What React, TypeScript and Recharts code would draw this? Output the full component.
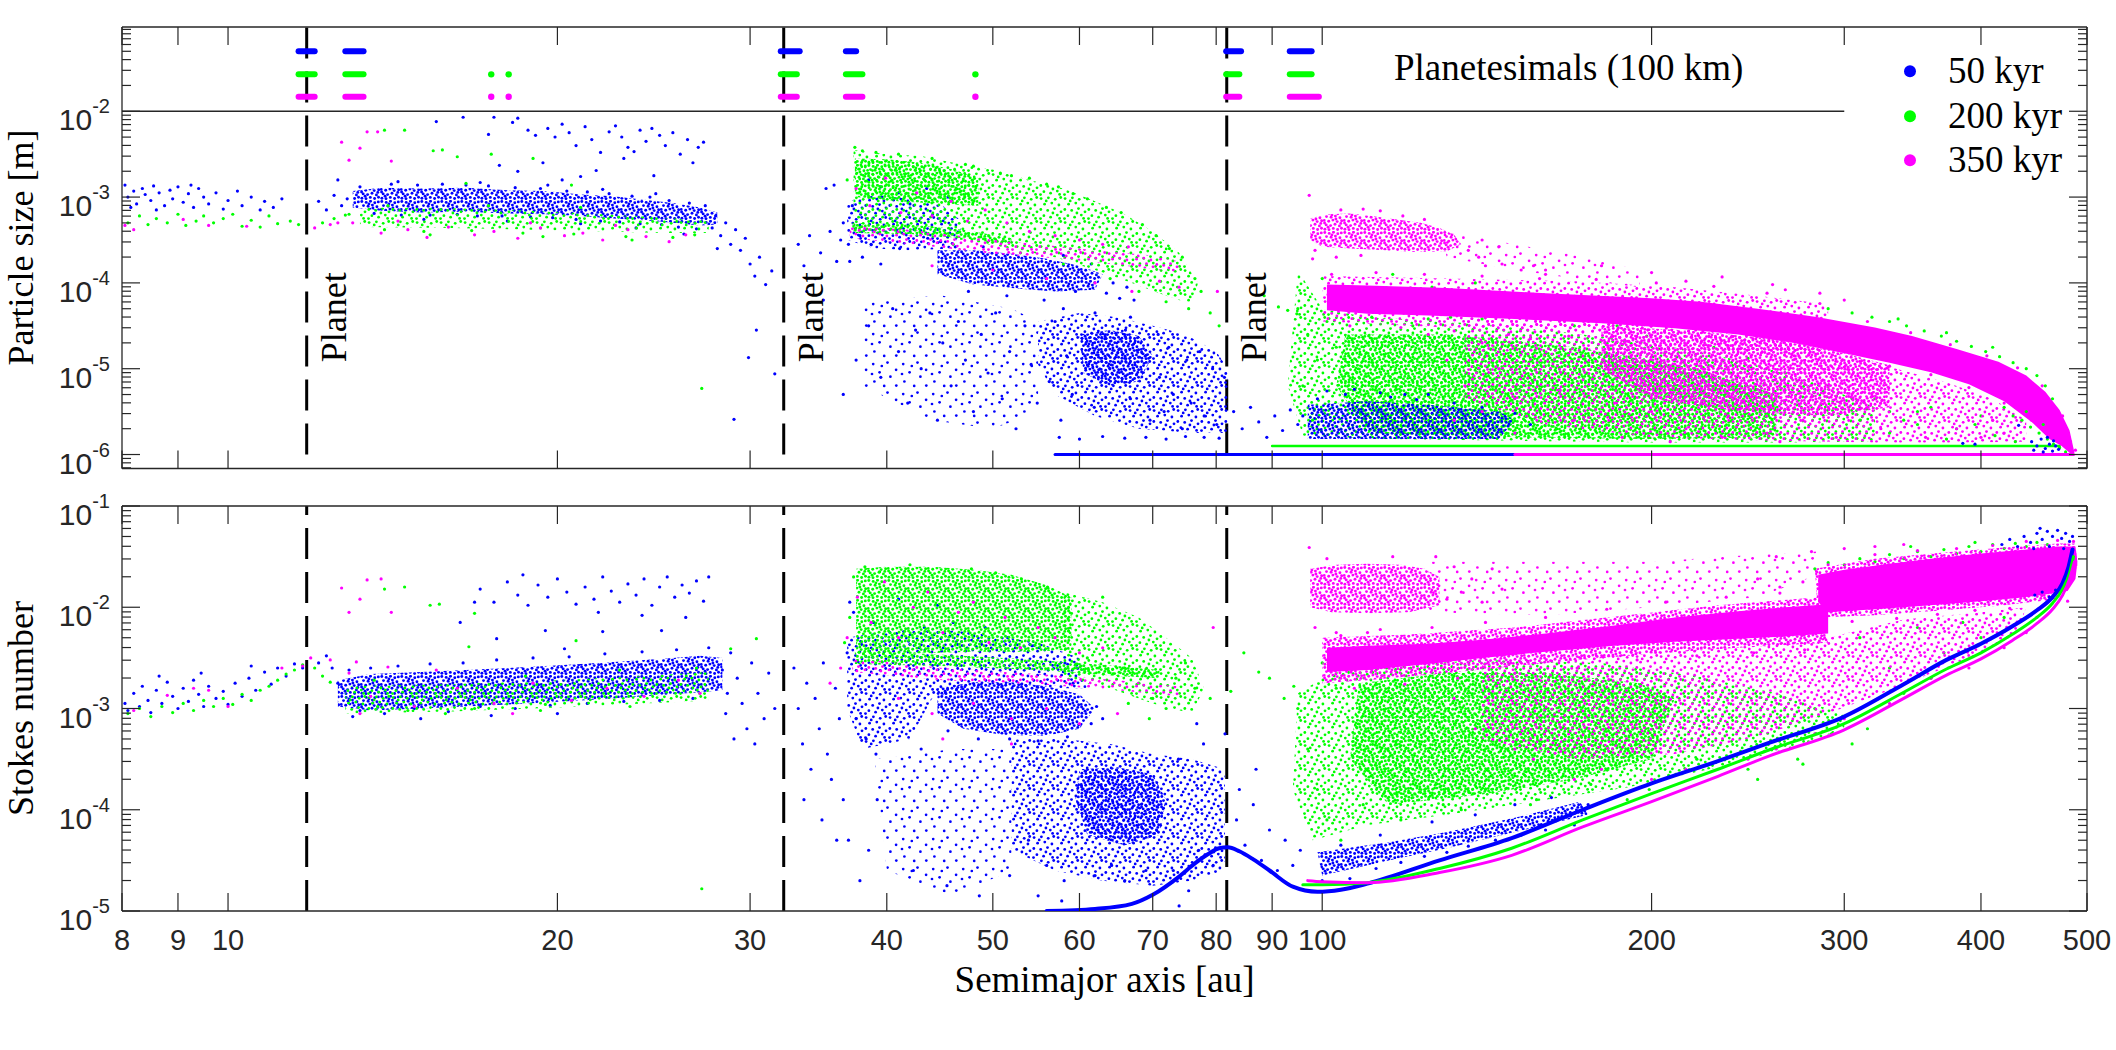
import React from 'react';
import { ScatterChart, Scatter, XAxis, YAxis, ReferenceLine } from 'recharts';

type Pt = [number, number]; // [semimajor axis au, log10(value)]

// ---------------- axes / ticks ----------------
const xTicks = [8, 9, 10, 20, 30, 40, 50, 60, 70, 80, 90, 100, 200, 300, 400, 500];
const xDomain = [8, 500];
const topYDomain = [6.871e-7, 0.09594];
const botYDomain = [1e-5, 1e-1];
const topYTicks = [7e-7, 8e-7, 9e-7, 1e-6, 2e-6, 3e-6, 4e-6, 5e-6, 6e-6, 7e-6, 8e-6, 9e-6, 1e-5, 2e-5, 3e-5, 4e-5, 5e-5, 6e-5, 7e-5, 8e-5, 9e-5, 1e-4, 2e-4, 3e-4, 4e-4, 5e-4, 6e-4, 7e-4, 8e-4, 9e-4, 1e-3, 2e-3, 3e-3, 4e-3, 5e-3, 6e-3, 7e-3, 8e-3, 9e-3, 1e-2, 2e-2, 3e-2, 4e-2, 5e-2, 6e-2, 7e-2, 8e-2, 9e-2];
const botYTicks = [1e-5, 2e-5, 3e-5, 4e-5, 5e-5, 6e-5, 7e-5, 8e-5, 9e-5, 1e-4, 2e-4, 3e-4, 4e-4, 5e-4, 6e-4, 7e-4, 8e-4, 9e-4, 1e-3, 2e-3, 3e-3, 4e-3, 5e-3, 6e-3, 7e-3, 8e-3, 9e-3, 1e-2, 2e-2, 3e-2, 4e-2, 5e-2, 6e-2, 7e-2, 8e-2, 9e-2, 1e-1];
const planets = [11.8, 32.2, 81.8];
const legendItems = ['50 kyr', '200 kyr', '350 kyr'];

// ---------------- planetesimals (100 km) ----------------
const pzRows = [-1.3, -1.57, -1.83];
const pzBlueDash = [[11.6, 12.0], [12.8, 13.3], [32.0, 33.3], [36.7, 37.5], [81.7, 84.3], [93.4, 97.8]];
const pzGreenDash = [[11.6, 12.0], [12.8, 13.3], [32.0, 33.1], [36.7, 38.0], [81.7, 84.0], [93.4, 97.8]];
const pzMagDash = [[11.6, 12.0], [12.8, 13.3], [32.0, 33.1], [36.7, 38.0], [81.7, 84.0], [93.4, 99.3]];
const pzGreenDots = [17.4, 18.05, 48.2];
const pzMagDots = [17.4, 18.05, 48.2];

// ======================= TOP: particle size =======================
const tBlueBandReg: Pt[] = [[13.0,-2.93],[13.8,-2.89],[15,-2.9],[16.5,-2.89],[18,-2.92],[19.5,-2.93],[21,-2.97],[22.5,-2.99],[24,-3.03],[25.5,-3.07],[27,-3.12],[28,-3.18],[28,-3.32],[27,-3.33],[25.5,-3.3],[24,-3.27],[22.5,-3.25],[21,-3.22],[19.5,-3.2],[18,-3.19],[16.5,-3.17],[15,-3.18],[13.8,-3.16],[13.0,-3.12]];
const tGreenBandReg: Pt[] = [[13.2,-3.12],[16,-3.13],[19,-3.16],[22,-3.2],[25,-3.24],[27.5,-3.28],[27.5,-3.42],[25,-3.42],[22,-3.4],[19,-3.38],[16,-3.36],[13.2,-3.35]];
const tGreenCloudReg: Pt[] = [[37.3,-2.45],[40,-2.5],[43,-2.52],[46,-2.6],[50,-2.68],[54,-2.8],[58,-2.9],[62,-3.05],[66,-3.2],[70,-3.4],[74,-3.65],[77,-4.0],[76,-4.25],[72,-4.15],[67,-4.0],[62,-3.85],[57,-3.7],[52,-3.6],[47,-3.5],[42,-3.45],[37.3,-3.4]];
const tGreenDenseReg: Pt[] = [[37.4,-2.55],[40,-2.56],[43,-2.6],[46,-2.68],[48.5,-2.78],[48.5,-3.1],[45,-3.08],[41,-3.05],[37.4,-3.0]];
const tGreenStreakReg: Pt[] = [[37.2,-3.3],[42,-3.32],[47,-3.38],[52,-3.48],[52,-3.56],[47,-3.48],[42,-3.43],[37.2,-3.42]];
const tBlueMidReg: Pt[] = [[36.8,-3.05],[39,-2.98],[42,-3.02],[45,-3.1],[47,-3.3],[46,-3.6],[42,-3.62],[39,-3.6],[36.8,-3.5]];
const tBlueBlobReg: Pt[] = [[44.5,-3.62],[48,-3.62],[52,-3.66],[56,-3.72],[60,-3.8],[63,-3.9],[62,-4.08],[57,-4.1],[52,-4.06],[48,-4.02],[44.5,-3.9]];
const tBlueLowReg: Pt[] = [[55,-4.45],[60,-4.35],[65,-4.4],[70,-4.5],[75,-4.6],[80,-4.8],[82,-5.0],[82,-5.75],[76,-5.75],[68,-5.7],[62,-5.55],[57,-5.3],[55,-4.95]];
const tBlueLowDenseReg: Pt[] = [[60,-4.6],[64,-4.55],[68,-4.62],[70,-4.85],[68,-5.15],[64,-5.2],[60.5,-5.05]];
const tBlueSparseReg: Pt[] = [[38,-4.2],[45,-4.15],[52,-4.3],[55,-4.45],[55,-5.5],[50,-5.7],[44,-5.6],[38,-5.2]];
const tMagStreakReg: Pt[] = [[37,-3.33],[42,-3.38],[48,-3.47],[55,-3.55],[62,-3.62],[70,-3.68],[74,-3.75],[74,-3.88],[66,-3.8],[58,-3.72],[50,-3.66],[43,-3.56],[37,-3.48]];
const tGreenBroadReg: Pt[] = [[95,-3.85],[100,-4.3],[110,-4.4],[130,-4.45],[160,-4.55],[200,-4.7],[240,-4.9],[280,-5.15],[320,-5.45],[320,-5.85],[260,-5.86],[200,-5.86],[150,-5.84],[115,-5.82],[96,-5.78],[93,-5.2]];
const tGreenBroadDenseReg: Pt[] = [[105,-4.6],[130,-4.6],[170,-4.75],[220,-5.0],[260,-5.3],[260,-5.8],[200,-5.82],[150,-5.8],[110,-5.75],[103,-5.2]];
const tBlueStreakReg: Pt[] = [[97,-5.42],[110,-5.38],[125,-5.42],[145,-5.5],[150,-5.6],[145,-5.82],[125,-5.82],[110,-5.82],[97,-5.82]];
const tMagUpperReg: Pt[] = [[97.5,-3.25],[101,-3.2],[106,-3.19],[111,-3.22],[117,-3.26],[123,-3.3],[128,-3.36],[132,-3.44],[134,-3.55],[130,-3.63],[122,-3.64],[114,-3.62],[106,-3.6],[100,-3.58],[97.5,-3.5]];
const tMagUpperSparseReg: Pt[] = [[128,-3.4],[150,-3.55],[175,-3.7],[195,-3.85],[195,-4.05],[170,-3.95],[150,-3.85],[130,-3.7]];
const tMagHaloReg: Pt[] = [[100,-3.92],[130,-3.95],[170,-3.98],[210,-4.05],[250,-4.15],[290,-4.25],[290,-4.95],[250,-4.82],[210,-4.7],[170,-4.6],[130,-4.52],[100,-4.45]];
const tMagCloudReg: Pt[] = [[135,-4.4],[170,-4.45],[210,-4.52],[250,-4.62],[290,-4.8],[330,-4.98],[370,-5.15],[410,-5.35],[440,-5.6],[440,-5.85],[380,-5.86],[320,-5.86],[260,-5.84],[200,-5.8],[160,-5.65],[135,-5.35]];
const tMagCloudDenseReg: Pt[] = [[180,-4.5],[220,-4.56],[260,-4.66],[300,-4.82],[330,-4.96],[330,-5.45],[290,-5.55],[240,-5.5],[200,-5.35],[180,-5.0]];
const tMagBandReg: Pt[] = [[101,-4.02],[110,-4.03],[130,-4.06],[160,-4.12],[200,-4.18],[222,-4.22],[250,-4.3],[284,-4.4],[320,-4.52],[346,-4.62],[380,-4.77],[415,-4.92],[440,-5.08],[458,-5.27],[472,-5.48],[482,-5.72],[487,-5.98],[484,-6.0],[474,-5.9],[462,-5.82],[445,-5.62],[420,-5.38],[390,-5.18],[360,-5.04],[330,-4.93],[300,-4.82],[270,-4.7],[240,-4.6],[210,-4.53],[180,-4.47],[150,-4.42],[125,-4.38],[110,-4.36],[101,-4.32]];

const tBlueLeft: Pt[] = [[8.05,-2.86],[8.1,-3.0],[8.2,-2.93],[8.25,-3.08],[8.35,-2.9],[8.4,-2.97],[8.5,-3.04],[8.55,-2.87],[8.65,-2.95],[8.75,-3.1],[8.85,-2.92],[8.9,-3.02],[9.0,-2.88],[9.1,-3.06],[9.2,-2.96],[9.3,-3.12],[9.4,-2.9],[9.5,-3.0],[9.6,-3.08],[9.75,-2.95],[9.9,-3.14],[10.0,-3.04],[10.2,-2.93],[10.3,-3.1],[10.5,-3.0],[10.7,-3.15],[10.8,-3.05],[11.0,-3.12],[11.2,-3.02],[8.15,-3.12],[8.6,-3.15],[9.25,-2.86],[12.1,-3.05],[12.3,-3.15],[12.5,-2.98],[12.6,-2.8],[12.7,-3.1],[12.85,-3.02]];
const tBlueBand: Pt[] = [[13.2,-2.88],[13.6,-3.19],[14.1,-2.85],[14.4,-3.21],[14.9,-2.86],[15.3,-3.21],[15.7,-2.85],[16.2,-3.2],[16.5,-2.86],[16.9,-3.22],[17.3,-2.87],[17.8,-3.22],[18.3,-2.89],[18.9,-3.23],[19.3,-2.9],[19.8,-3.24],[20.4,-2.93],[20.8,-3.26],[21.3,-2.94],[21.9,-3.28],[22.3,-2.96],[22.8,-3.29],[23.4,-2.99],[23.8,-3.31],[24.3,-3.0],[24.9,-3.32],[25.3,-3.04],[25.8,-3.35],[26.4,-3.07],[26.8,-3.37],[27.3,-3.1],[27.7,-3.36],[14.3,-2.82],[17.0,-2.83],[19.6,-2.86],[22.0,-2.91],[24.6,-2.96],[15.1,-3.26],[18.0,-3.28],[21.0,-3.31],[23.6,-3.36],[26.1,-3.43]];
const tBlueTail: Pt[] = [[27.9,-3.22],[28.2,-3.45],[28.5,-3.3],[28.8,-3.55],[29.1,-3.38],[29.4,-3.62],[29.7,-3.48],[30.0,-3.78],[30.3,-3.92],[30.6,-3.7],[31.0,-4.02],[31.4,-3.86],[29.9,-4.87],[31.6,-5.06],[30.4,-4.55],[29.0,-5.59],[28.0,-3.6]];
const tBlueUpper: Pt[] = [[15.5,-2.12],[16.4,-2.07],[17.3,-2.27],[17.5,-2.07],[17.7,-2.63],[18.2,-2.13],[18.4,-2.08],[18.4,-2.7],[18.8,-2.22],[19.1,-2.28],[19.4,-2.6],[19.6,-2.2],[19.9,-2.3],[20.2,-2.15],[20.2,-2.8],[20.5,-2.25],[20.8,-2.4],[21.0,-2.76],[21.2,-2.18],[21.5,-2.33],[21.7,-2.69],[21.9,-2.48],[22.3,-2.24],[22.6,-2.17],[22.9,-2.3],[23.2,-2.42],[23.5,-2.47],[23.8,-2.22],[24.1,-2.35],[24.5,-2.75],[24.8,-2.28],[25.1,-2.4],[25.5,-2.25],[25.9,-2.5],[26.3,-2.33],[26.6,-2.6],[26.9,-2.42],[27.2,-2.36],[23.0,-2.55],[24.4,-2.2]];
const tBlueMid: Pt[] = [[37.2,-3.1],[37.8,-3.45],[38.7,-3.55],[39.6,-3.0],[40.8,-3.38],[41.1,-3.6],[42.0,-3.08],[43.6,-3.48],[44.8,-3.52],[36.5,-3.3],[36.9,-3.55],[37.0,-3.75],[38.0,-3.7],[39.5,-3.78],[39.5,-2.88],[41.0,-2.95],[43.5,-2.9],[38.5,-2.8],[45.5,-3.0],[33.2,-3.55],[33.6,-3.8],[34.0,-3.45],[34.4,-3.95],[34.8,-3.65],[35.2,-2.9],[35.5,-3.4],[35.8,-2.86],[36.0,-3.75],[36.3,-3.5],[33.8,-4.1],[35.0,-4.2],[47.5,-4.1],[51.5,-4.15],[55.7,-4.2],[59.5,-4.1],[63.5,-4.12],[64.4,-4.0],[65.3,-4.18],[66.3,-4.05],[67.3,-4.2],[46.2,-3.58],[49.0,-3.58],[58.0,-3.68],[61.5,-3.78]];
const tBlueLow: Pt[] = [[38.5,-4.5],[39.5,-5.1],[40.5,-4.3],[41.0,-4.8],[41.8,-5.4],[42.5,-4.55],[43.0,-5.0],[43.8,-4.35],[44.5,-5.6],[45.0,-4.7],[45.8,-5.2],[46.5,-4.45],[47.2,-4.9],[48.0,-5.5],[48.8,-4.6],[49.5,-5.05],[50.3,-4.35],[51.0,-5.35],[51.8,-4.8],[52.5,-5.7],[37.5,-4.9],[36.5,-5.3],[53.5,-4.5],[54.2,-4.95],[54.9,-5.4],[56.3,-5.15],[57.0,-4.45],[57.7,-5.6],[58.4,-4.85],[59.1,-5.3],[61.9,-5.45],[63.3,-4.65],[66.1,-4.55],[66.8,-5.35],[69.6,-5.6],[71.0,-5.1],[71.7,-5.5],[72.4,-4.75],[73.1,-5.3],[74.5,-5.7],[75.2,-4.9],[75.9,-5.4],[77.3,-4.8],[78.0,-5.55],[79.4,-5.0],[80.1,-5.65],[81.4,-5.1],[70.8,-4.6],[58.0,-4.3],[62.0,-4.35],[66.8,-4.4],[57.5,-5.8],[60.0,-5.82],[63.0,-5.79],[66.0,-5.81],[69.0,-5.8],[72.0,-5.82],[75.0,-5.79],[78.0,-5.8],[80.5,-5.81]];
const tBlueRight: Pt[] = [[83,-5.5],[84.5,-5.7],[86,-5.45],[87.5,-5.62],[89,-5.8],[90.5,-5.55],[92,-5.72],[93.5,-5.48],[95,-5.65],[96,-5.55],[99,-5.35],[105,-5.3],[115.5,-5.33],[122,-5.36],[101,-5.26],[107,-5.24],[113,-5.28],[119,-5.3],[125,-5.3],[132,-5.4],[140,-5.45],[150,-5.52],[155,-5.65]];
const tBlueLate: Pt[] = [[445,-5.85],[450,-5.9],[454,-5.82],[458,-5.93],[462,-5.88],[465,-5.96],[468,-5.9],[471,-5.94],[447,-5.95],[456,-5.97],[460,-5.8],[466,-5.84],[385,-5.87],[395,-5.88],[433,-5.66]];
const tBlueFloor: Pt[] = [[57,-6.0],[155,-6.0]];
const tGreenFloor: Pt[] = [[90,-5.9],[472,-5.9]];
const tMagFloor: Pt[] = [[150,-6.0],[486,-6.0]];

const tGreenLeft: Pt[] = [[8.1,-3.3],[8.3,-3.22],[8.45,-3.32],[8.6,-3.25],[8.8,-3.3],[9.0,-3.2],[9.15,-3.33],[9.35,-3.28],[9.5,-3.22],[9.7,-3.3],[9.9,-3.25],[10.1,-3.2],[10.3,-3.34],[10.5,-3.27],[10.7,-3.35],[10.9,-3.22],[11.1,-3.31],[11.4,-3.28],[11.6,-3.32],[12.2,-3.3],[12.5,-3.25],[12.8,-3.21]];
const tGreenBand: Pt[] = [[12.9,-3.2],[13.9,-3.38],[15.1,-3.4],[16.7,-3.39],[18.6,-3.42],[20.7,-3.43],[23.1,-3.46],[25.5,-3.47],[26.7,-3.44],[15.3,-3.44],[19.4,-3.46],[23.4,-3.5],[17.3,-3.1],[21.0,-3.12],[14.0,-3.1]];
const tGreenUpper: Pt[] = [[13.9,-2.22],[14.5,-2.22],[15.4,-2.46],[15.7,-2.45],[16.2,-2.53],[17.4,-2.5],[19.0,-2.55],[16.5,-2.84],[20.6,-2.86],[27.1,-5.23]];
const tGreenMid: Pt[] = [[37.4,-2.42],[38.0,-2.46],[36.8,-2.8],[39.1,-2.48],[41.0,-2.5],[44.0,-2.55],[47.2,-2.62],[48.0,-2.64],[50.8,-2.72],[52.0,-2.75],[54.0,-2.78],[56.0,-2.85],[57.4,-2.88],[59.2,-2.96],[61.0,-3.02],[63.5,-3.12],[65.5,-3.18],[68.5,-3.32],[70.5,-3.45],[72.5,-3.6],[74.5,-3.7],[76.5,-3.95],[77.5,-4.1],[75.5,-4.3],[72.0,-4.22],[68.0,-4.1],[64.0,-3.95],[79,-4.35],[80.5,-4.5],[88.5,-4.15],[91.2,-4.28],[93,-4.32],[94.8,-4.36],[53.0,-3.65],[58.0,-3.78],[46.0,-3.55]];
const tGreenRight: Pt[] = [[95,-4.3],[97,-4.6],[99,-4.9],[101,-4.45],[103,-4.75],[111,-4.4],[117,-4.3],[121,-4.5],[125,-4.42],[131,-4.4],[134,-4.35],[140,-4.42],[143,-4.25],[150,-4.4],[162,-4.38],[170,-4.5],[186,-4.5],[198,-4.62],[228,-4.75],[245,-4.88],[265,-5.05],[290,-5.2],[305,-5.35],[320,-5.35],[340,-5.6],[360,-5.45],[380,-5.7],[400,-5.55],[100,-3.95],[108,-4.1],[116,-3.9],[126,-4.05],[138,-4.0],[96,-5.2],[98,-5.6],[330,-5.5],[350,-5.65]];
const tGreenEdge: Pt[] = [[290,-4.3],[305,-4.35],[318,-4.4],[330,-4.45],[342,-4.5],[355,-4.56],[368,-4.62],[380,-4.68],[392,-4.74],[404,-4.8],[416,-4.86],[428,-4.93],[440,-5.0],[450,-5.08],[458,-5.2],[465,-5.35],[336,-4.42],[372,-4.58],[410,-4.75],[420,-5.45],[428,-5.55],[436,-5.6],[444,-5.68],[452,-5.75],[460,-5.82],[466,-5.88],[472,-5.92],[478,-5.97],[440,-5.5],[456,-5.65],[310,-5.6],[330,-5.75],[350,-5.5],[372,-5.82],[395,-5.65],[412,-5.78],[430,-5.85]];

const tMagLeft: Pt[] = [[8.05,-3.33],[8.2,-3.38],[9.1,-3.26],[9.6,-3.33],[10.4,-3.34],[12.0,-3.36],[12.6,-3.3]];
const tMagBand: Pt[] = [[13.0,-3.3],[13.8,-3.42],[14.6,-3.38],[15.2,-3.47],[15.9,-3.35],[16.8,-3.44],[17.5,-3.4],[18.4,-3.48],[19.3,-3.36],[20.3,-3.45],[21.1,-3.42],[22.0,-3.5],[23.2,-3.38],[24.1,-3.46],[25.3,-3.52],[26.2,-3.44],[14.3,-3.28],[18.9,-3.3],[22.6,-3.33],[12.4,-3.32],[13.4,-2.24],[13.7,-2.24],[12.7,-2.36],[13.2,-2.43],[12.9,-2.57],[14.1,-2.58]];
const tMagMid: Pt[] = [[37.5,-2.9],[38.6,-3.1],[39.9,-2.78],[41.2,-3.18],[42.6,-2.95],[44.0,-3.22],[45.8,-3.05],[47.4,-3.28],[49.2,-3.15],[51.5,-3.3],[54.0,-3.4],[57.0,-3.45],[60.0,-3.5],[63.0,-3.55],[66.5,-3.58],[50.0,-3.85],[56.0,-3.95],[62.0,-4.0],[67.0,-4.1],[71.0,-3.98],[74.0,-4.05],[44.0,-3.8],[80.2,-4.1],[97.3,-2.98]];
const tMagUpper: Pt[] = [[98.5,-3.62],[103,-3.7],[108.5,-3.68],[113,-3.16],[104,-3.15],[109,-3.14],[118.5,-3.22],[124,-3.26],[136,-3.62],[139,-3.7],[141,-3.8],[146,-3.78],[152,-3.85],[156,-3.8],[160,-3.9],[98,-3.72],[140,-3.5],[145,-3.58]];
const tMagEdge: Pt[] = [[102,-3.9],[106,-4.5],[112,-3.88],[118,-4.52],[124,-3.9],[132,-4.56],[140,-3.92],[148,-4.6],[158,-3.95],[168,-4.62],[178,-3.96],[190,-4.68],[202,-4.0],[215,-4.72],[228,-4.04],[240,-4.77],[255,-4.12],[270,-4.85],[285,-4.24],[300,-4.98],[315,-4.45],[330,-4.97],[345,-4.58],[360,-5.07],[375,-4.72],[390,-5.22],[405,-4.85],[420,-5.4],[432,-4.99],[445,-5.6],[455,-5.2],[465,-5.77],[475,-5.55],[483,-5.85],[488,-5.95],[160,-3.85],[180,-3.8],[200,-3.88],[232,-3.93],[258,-4.02],[285,-4.12],[300,-4.2],[265,-4.08],[215,-3.98]];
const tMagBelow: Pt[] = [[125,-4.6],[130,-4.9],[135,-5.2],[140,-4.7],[145,-5.0],[150,-5.35],[155,-4.65],[165,-5.25],[170,-5.6],[185,-5.4],[200,-5.5],[215,-5.7],[235,-5.55],[255,-5.75],[275,-5.6],[295,-5.8],[324,-5.7],[356,-5.8],[380,-5.7],[400,-5.8],[420,-5.75],[410,-5.6],[430,-5.45],[440,-5.4],[188,-5.8],[208,-5.85],[232,-5.8],[262,-5.85],[140,-5.5],[150,-5.75],[132,-5.6]];

// ======================= BOTTOM: Stokes number =======================
const bBlueBandReg: Pt[] = [[12.6,-2.72],[13.5,-2.66],[15,-2.64],[16.5,-2.62],[18,-2.6],[19.5,-2.58],[21,-2.56],[22.5,-2.54],[24,-2.52],[25.5,-2.5],[27,-2.48],[28.3,-2.5],[28.3,-2.82],[27,-2.84],[25.5,-2.86],[24,-2.88],[22.5,-2.9],[21,-2.92],[19.5,-2.94],[18,-2.96],[16.5,-2.98],[15,-3.0],[13.5,-3.02],[12.6,-2.98]];
const bGreenBandReg: Pt[] = [[12.8,-2.78],[16,-2.76],[20,-2.72],[24,-2.68],[27.5,-2.64],[27.5,-2.92],[24,-2.95],[20,-2.99],[16,-3.03],[12.8,-3.05]];
const bGreenCloudReg: Pt[] = [[37.5,-1.62],[40,-1.6],[44,-1.6],[48,-1.63],[52,-1.68],[56,-1.78],[59,-1.9],[59,-2.42],[54,-2.44],[48,-2.44],[42,-2.46],[37.5,-2.48]];
const bGreenCloudMedReg: Pt[] = [[58,-1.85],[63,-1.95],[68,-2.1],[72,-2.3],[76,-2.5],[78,-2.8],[76,-3.05],[70,-2.95],[64,-2.8],[58,-2.7]];
const bGreenStreakReg: Pt[] = [[37.4,-2.44],[45,-2.47],[55,-2.52],[65,-2.58],[71,-2.62],[71,-2.7],[65,-2.68],[55,-2.62],[45,-2.58],[37.4,-2.56]];
const bMagStreakReg: Pt[] = [[37.2,-2.5],[45,-2.6],[55,-2.66],[65,-2.72],[74,-2.78],[74,-2.88],[65,-2.82],[55,-2.76],[45,-2.72],[37.2,-2.64]];
const bBlueMidReg: Pt[] = [[36.8,-2.3],[42,-2.2],[48,-2.25],[55,-2.35],[60,-2.5],[61,-2.8],[55,-2.8],[48,-2.78],[44,-2.9],[42,-3.3],[38,-3.4],[36.8,-3.0]];
const bBlueBlobReg: Pt[] = [[44.5,-2.8],[48,-2.74],[52,-2.74],[56,-2.78],[60,-2.86],[62,-3.0],[60,-3.2],[56,-3.27],[51,-3.26],[47,-3.2],[44.5,-3.05]];
const bBlueLowReg: Pt[] = [[52,-3.3],[58,-3.3],[64,-3.35],[70,-3.45],[76,-3.5],[81.5,-3.6],[81.5,-4.6],[76,-4.7],[70,-4.75],[63,-4.7],[57,-4.6],[52,-4.4]];
const bBlueLowDenseReg: Pt[] = [[60,-3.6],[65,-3.58],[70,-3.65],[72,-3.9],[71,-4.25],[66,-4.35],[61,-4.25],[59.5,-3.9]];
const bBlueSparseReg: Pt[] = [[39,-3.5],[46,-3.4],[52,-3.4],[52,-4.6],[46,-4.85],[40,-4.6]];
const bMagUpperReg: Pt[] = [[97.5,-1.62],[103,-1.58],[110,-1.57],[118,-1.58],[124,-1.62],[128,-1.7],[128,-1.98],[120,-2.05],[110,-2.06],[102,-2.05],[97.5,-2.0]];
const bMagUpperSparseReg: Pt[] = [[125,-1.55],[160,-1.55],[200,-1.55],[250,-1.48],[284,-1.45],[284,-1.68],[250,-1.9],[200,-2.0],[160,-2.08],[125,-2.05]];
const bMagBand1Reg: Pt[] = [[101,-2.4],[110,-2.38],[125,-2.36],[140,-2.32],[160,-2.26],[185,-2.18],[210,-2.1],[240,-2.04],[265,-2.0],[290,-1.97],[290,-2.26],[265,-2.29],[240,-2.31],[210,-2.34],[185,-2.38],[160,-2.44],[140,-2.5],[125,-2.56],[110,-2.62],[101,-2.64]];
const bMagBand1HaloReg: Pt[] = [[100,-2.3],[120,-2.27],[150,-2.2],[190,-2.08],[230,-1.98],[284,-1.9],[290,-2.35],[240,-2.4],[200,-2.46],[160,-2.55],[130,-2.65],[110,-2.72],[100,-2.75]];
const bMagBand2Reg: Pt[] = [[284,-1.68],[300,-1.63],[330,-1.57],[360,-1.52],[400,-1.47],[440,-1.43],[470,-1.4],[488,-1.4],[490,-1.55],[488,-1.72],[480,-1.84],[455,-1.88],[430,-1.91],[400,-1.94],[370,-1.97],[340,-2.0],[310,-2.03],[290,-2.05],[284,-1.95]];
const bMagBand2HaloReg: Pt[] = [[282,-1.62],[320,-1.52],[370,-1.46],[420,-1.41],[470,-1.37],[488,-1.37],[490,-1.6],[470,-1.92],[420,-1.98],[370,-2.03],[320,-2.08],[284,-2.1]];
const bMagCloudReg: Pt[] = [[140,-2.55],[190,-2.45],[240,-2.4],[290,-2.3],[340,-2.12],[400,-2.05],[440,-2.0],[430,-2.3],[380,-2.55],[330,-2.82],[290,-3.05],[250,-3.28],[210,-3.45],[170,-3.5],[140,-3.3]];
const bGreenBroadReg: Pt[] = [[95,-2.85],[102,-2.65],[115,-2.58],[140,-2.52],[180,-2.55],[220,-2.68],[260,-2.85],[300,-3.05],[300,-3.2],[270,-3.38],[230,-3.58],[190,-3.78],[160,-3.9],[130,-4.05],[110,-4.15],[98,-4.3],[94,-3.8]];
const bGreenBroadDenseReg: Pt[] = [[108,-2.75],[130,-2.65],[160,-2.65],[195,-2.75],[210,-2.9],[200,-3.5],[170,-3.7],[140,-3.85],[115,-3.95],[106,-3.5]];
const bBlueStreakReg: Pt[] = [[99,-4.42],[115,-4.32],[130,-4.22],[150,-4.08],[172,-3.92],[175,-4.05],[150,-4.22],[130,-4.38],[115,-4.5],[100,-4.65]];

const bBlueLeft: Pt[] = [[8.05,-2.95],[8.1,-3.02],[8.2,-2.85],[8.3,-2.98],[8.35,-2.78],[8.45,-2.92],[8.5,-3.04],[8.6,-2.82],[8.7,-2.95],[8.8,-2.74],[8.9,-2.88],[9.0,-3.0],[9.1,-2.8],[9.2,-2.93],[9.3,-2.72],[9.4,-2.86],[9.5,-2.98],[9.6,-2.78],[9.75,-2.9],[9.9,-2.83],[10.0,-2.96],[10.15,-2.75],[10.3,-2.88],[10.45,-2.7],[10.6,-2.82],[10.8,-2.64],[10.95,-2.76],[11.1,-2.6],[11.3,-2.68],[11.5,-2.56],[11.7,-2.6],[12.1,-2.55],[12.3,-2.48],[12.45,-2.6],[8.65,-2.68],[9.45,-2.65],[10.5,-2.58]];
const bBlueBand: Pt[] = [[12.6,-2.75],[12.9,-2.62],[13.2,-3.02],[13.5,-2.6],[13.9,-3.05],[14.3,-2.58],[14.8,-3.0],[15.3,-2.56],[15.9,-3.03],[16.4,-2.55],[17.0,-2.98],[17.6,-2.52],[18.3,-3.0],[19.0,-2.5],[19.7,-2.97],[20.5,-2.49],[21.3,-2.95],[22.1,-2.46],[23.0,-2.93],[23.9,-2.44],[24.8,-2.92],[25.7,-2.42],[26.6,-2.9],[27.5,-2.4],[28.3,-2.62],[28.6,-2.85],[13.0,-3.08],[15.0,-3.1],[17.4,-3.07],[20.0,-3.05],[28.8,-2.45],[29.2,-2.7],[29.5,-2.95],[29.8,-3.2],[30.1,-2.55],[30.5,-2.85],[30.9,-3.1],[31.2,-2.65],[31.6,-3.0],[29.0,-3.3],[30.3,-3.35],[28.5,-3.05]];
const bBlueUpper: Pt[] = [[17.0,-1.82],[17.5,-1.95],[18.0,-1.75],[18.4,-1.88],[18.8,-1.98],[19.2,-1.78],[19.6,-1.9],[20.0,-1.72],[20.4,-1.85],[20.8,-1.97],[21.2,-1.8],[21.6,-1.92],[22.0,-1.7],[22.4,-1.84],[22.8,-1.95],[23.2,-1.77],[23.6,-1.88],[24.0,-1.72],[24.4,-1.98],[24.8,-1.8],[25.2,-1.7],[25.6,-1.9],[26.0,-1.78],[26.4,-1.86],[26.8,-1.74],[27.2,-1.94],[16.3,-2.15],[17.6,-2.31],[19.5,-2.23],[22.0,-2.24],[24.9,-2.23],[20.3,-2.41],[18.6,-1.68],[21.8,-2.05],[23.9,-2.08],[26.2,-2.1],[16.8,-1.95],[27.5,-1.7]];
const bBlueMid: Pt[] = [[32.9,-2.6],[33.2,-3.0],[33.5,-3.35],[33.8,-2.75],[34.1,-3.6],[34.4,-2.9],[34.7,-3.2],[35.0,-2.55],[35.3,-3.45],[35.6,-3.7],[35.9,-2.8],[36.2,-3.1],[36.5,-3.9],[36.8,-2.45],[33.6,-3.9],[34.9,-4.1],[36.0,-4.3],[37.3,-2.05],[38.9,-2.15],[43.3,-2.2],[46.0,-2.15],[49.2,-2.2],[51.6,-2.3],[54.3,-2.38],[58.2,-2.55],[59.2,-2.75],[37.5,-3.1],[38.3,-3.3],[39.1,-3.45],[43.0,-3.4],[37.0,-1.95],[41.0,-1.92],[44.5,-1.98],[45.5,-3.22],[48.5,-3.3],[51.8,-3.3],[55.0,-3.32],[58.5,-3.28],[61.5,-3.15],[62.2,-2.98],[63,-3.1]];
const bBlueLow: Pt[] = [[38.5,-4.4],[39.2,-3.9],[37.8,-4.7],[36.9,-4.3],[42.3,-4.6],[45.4,-4.75],[48.6,-4.85],[51.8,-4.65],[53.9,-4.3],[56.0,-4.55],[58.1,-4.7],[55.0,-4.85],[57.8,-4.9],[64.2,-4.55],[69.0,-4.6],[62.0,-4.65],[66.0,-4.7],[73.1,-4.6],[75.5,-4.8],[77.1,-4.4],[79.5,-4.55],[81.5,-3.25],[76.8,-3.15],[74.0,-4.95],[73.9,-3.5],[77.9,-3.35],[83.5,-4.1],[85,-4.35],[86.5,-3.95],[88,-4.5],[89.5,-4.2],[91,-4.6],[92.5,-4.3],[94,-4.55],[95.5,-4.4],[84,-3.8],[87,-3.6]];
const bBlueStreak: Pt[] = [[100,-4.7],[106,-4.68],[112,-4.58],[118,-4.52],[124,-4.46],[130,-4.42],[136,-4.36],[144,-4.3],[152,-4.25],[160,-4.2],[170,-4.15],[104,-4.35],[113,-4.25],[126,-4.12],[138,-4.05],[150,-3.95],[162,-3.88],[175,-3.95]];
const bBlueLate: Pt[] = [[418,-1.38],[425,-1.33],[432,-1.4],[438,-1.3],[444,-1.36],[450,-1.27],[455,-1.33],[460,-1.25],[465,-1.3],[470,-1.24],[474,-1.32],[478,-1.27],[482,-1.35],[485,-1.3],[447,-1.42],[462,-1.4],[476,-1.42],[453,-1.22],[448,-1.88],[455,-1.85],[462,-1.9],[468,-1.83],[473,-1.8]];
const bBlueCurve: Pt[] = [[56,-5.0],[62,-4.98],[67,-4.93],[70,-4.84],[74,-4.66],[76.5,-4.53],[78.6,-4.44],[80.5,-4.38],[82,-4.37],[84,-4.41],[86.5,-4.49],[89.5,-4.6],[94,-4.76],[99,-4.81],[104,-4.79],[110,-4.73],[128,-4.5],[149,-4.28],[173,-4.0],[200,-3.74],[230,-3.52],[256,-3.34],[300,-3.08],[340,-2.76],[372,-2.52],[400,-2.36],[427,-2.19],[450,-2.03],[465,-1.9],[475,-1.76],[481,-1.6],[485,-1.43]];
const bGreenCurve: Pt[] = [[96,-4.74],[100,-4.74],[110,-4.72],[128,-4.58],[149,-4.38],[173,-4.1],[200,-3.84],[230,-3.6],[256,-3.41],[300,-3.15],[340,-2.84],[372,-2.61],[400,-2.45],[427,-2.27],[450,-2.1],[465,-1.96],[475,-1.82],[482,-1.66],[486,-1.5]];
const bMagCurve: Pt[] = [[97,-4.7],[100,-4.71],[110,-4.72],[128,-4.62],[149,-4.45],[173,-4.17],[200,-3.92],[230,-3.67],[256,-3.47],[300,-3.21],[340,-2.9],[372,-2.67],[400,-2.51],[427,-2.33],[450,-2.16],[465,-2.02],[475,-1.88],[482,-1.72],[487,-1.55]];

const bGreenLeft: Pt[] = [[8.1,-3.05],[8.3,-3.0],[8.5,-3.08],[8.7,-2.98],[8.9,-3.04],[9.1,-2.95],[9.3,-3.02],[9.5,-2.92],[9.7,-2.98],[9.9,-2.9],[10.1,-2.96],[10.3,-2.86],[10.5,-2.92],[10.7,-2.82],[10.9,-2.78],[11.1,-2.72],[11.3,-2.66],[11.5,-2.62],[11.7,-2.57],[12.0,-2.6],[12.2,-2.68],[12.4,-2.74]];
const bGreenBand: Pt[] = [[13.7,-2.98],[14.6,-3.02],[16.8,-3.0],[19.5,-2.96],[15.8,-3.05],[19.3,-3.02],[23.3,-2.98],[13.6,-2.72],[18.7,-2.68],[22.8,-2.62],[26.8,-2.6],[13.9,-1.82],[14.5,-1.8],[15.3,-1.98],[15.6,-1.97],[16.8,-2.06],[16.6,-2.39],[20.8,-2.33],[30.4,-2.31],[28.8,-2.41],[27.1,-4.78]];
const bGreenMid: Pt[] = [[37.3,-1.7],[38.2,-1.6],[39.4,-1.65],[42.0,-1.58],[47.8,-1.62],[50.3,-1.66],[53.1,-1.72],[56.1,-1.8],[61.0,-2.5],[66.0,-2.6],[68.0,-2.75],[70.0,-2.9],[72.0,-3.0],[73.5,-2.7],[75.0,-2.55],[76.5,-2.8],[66.5,-2.95],[69.5,-3.1],[37.0,-2.1],[36.6,-2.35],[82.5,-2.83],[84.8,-2.45],[87.5,-2.64],[89.5,-2.7],[92.3,-2.9],[94.2,-2.78],[79,-2.9],[63,-1.9]];
const bGreenRight: Pt[] = [[95,-3.0],[97,-3.4],[99,-3.8],[101,-4.1],[103,-2.8],[109,-3.95],[117,-3.85],[129,-3.95],[141,-3.8],[157,-3.9],[176,-3.75],[199,-3.8],[220,-3.5],[245,-3.6],[272,-3.5],[282,-3.0],[292,-3.25],[305,-3.35],[315,-3.2],[100,-2.55],[110,-2.45],[125,-2.4],[140,-2.45],[160,-2.42],[118,-4.1],[134,-4.0],[155,-3.95],[104,-4.3],[190,-3.9],[250,-3.7],[275,-3.55],[300,-1.58],[310,-1.52],[320,-1.55],[330,-1.48],[340,-1.52],[350,-1.45],[360,-1.5],[370,-1.43],[380,-1.47],[390,-1.4],[400,-1.45],[410,-1.38],[420,-1.42],[430,-1.37],[440,-1.4],[450,-1.36],[460,-1.38],[282,-1.62],[290,-1.56],[345,-1.4],[395,-1.36],[466,-1.76],[472,-1.8],[478,-1.74],[310,-2.3],[330,-2.6],[350,-2.2],[370,-2.45],[385,-2.15],[400,-2.3],[420,-2.1],[340,-2.85],[360,-2.7]];

const bMagLeft: Pt[] = [[8.2,-3.02],[8.8,-2.87],[9.3,-2.8],[9.6,-2.82],[10.0,-2.98],[11.2,-2.6],[11.7,-2.58],[11.9,-2.5],[12.4,-2.52],[12.9,-2.65],[13.1,-2.54],[14.0,-2.59],[15.5,-2.62],[13.5,-2.88],[14.8,-2.98],[16.2,-2.8],[17.5,-2.95],[19.0,-2.75],[20.6,-2.92],[22.2,-2.8],[24.0,-2.88],[25.8,-2.72],[27.0,-2.85],[13.2,-3.05],[18.2,-3.05],[12.7,-1.81],[13.2,-1.92],[13.4,-1.73],[13.8,-1.72],[12.9,-2.05],[14.1,-2.05]];
const bMagMid: Pt[] = [[37.6,-1.9],[38.7,-2.15],[39.8,-1.75],[41.0,-2.3],[42.3,-2.0],[43.6,-1.85],[45.0,-2.25],[46.5,-2.05],[48.0,-1.95],[49.6,-2.35],[51.3,-2.1],[53.0,-2.4],[55,-2.2],[57,-2.3],[60,-2.45],[63,-2.4],[36.8,-2.3],[36.3,-2.6],[35.5,-2.75],[41,-2.9],[44,-3.05],[48,-2.95],[52,-3.1],[56,-3.0],[60,-3.15],[65,-3.05],[45,-3.3],[52,-3.35],[79.5,-2.2],[97.3,-1.41]];
const bMagUpper: Pt[] = [[130,-1.92],[132,-1.6],[134,-1.85],[137,-1.72],[140,-1.95],[143,-1.62],[146,-1.82],[98.5,-2.2],[104,-2.28],[110,-2.25],[101,-1.52],[116,-1.5],[127,-1.5],[260,-1.5],[280,-1.45],[300,-1.42],[320,-1.4],[340,-1.38]];
const bMagEdge: Pt[] = [[103,-2.25],[107,-2.8],[113,-2.22],[119,-2.76],[126,-2.2],[133,-2.7],[141,-2.15],[150,-2.65],[160,-2.1],[171,-2.6],[182,-2.02],[194,-2.52],[206,-1.95],[220,-2.48],[234,-1.9],[248,-2.45],[262,-1.86],[276,-2.42],[290,-1.58],[305,-2.14],[320,-1.48],[335,-2.11],[350,-1.44],[365,-2.07],[380,-1.42],[395,-2.03],[410,-1.39],[425,-2.01],[440,-1.35],[455,-1.99],[470,-1.34],[480,-1.94],[486,-1.35],[275,-1.75],[262,-1.8],[250,-1.72]];
const bMagCloud: Pt[] = [[132,-2.9],[138,-3.2],[150,-3.4],[156,-3.5],[180,-3.6],[200,-3.7],[215,-3.6],[245,-3.5],[170,-3.7],[260,-3.4],[282,-3.25],[300,-3.1],[330,-2.95],[360,-2.7],[390,-2.6],[420,-2.4],[440,-2.25],[450,-2.1]];

// ---------------- styling ----------------
const AX = '#262626';
const BLUE = '#0000ff';
const GREEN = '#00ff00';
const MAG = '#ff00ff';
const SANS = '"Liberation Sans", Arial, Helvetica, sans-serif';
const SERIF = '"Liberation Serif", "Times New Roman", serif';
const R = 1.6;

// speckle textures that fill the dense clouds (style only)
const TILES: Record<string, { s: number; r: number; p: number[][] }> = {
  D: { s: 20, r: 1.45, p: [[1.8,1.5],[6.2,2.4],[10.5,1.2],[14.8,2.8],[18.3,1.9],[3.5,5.6],[8.1,6.3],[12.4,5.1],[16.9,6.7],[1.2,9.4],[5.7,10.2],[9.9,9.1],[14.2,10.6],[18.6,9.8],[3.2,13.9],[7.6,14.6],[12.0,13.3],[16.4,14.9],[1.9,18.2],[6.0,18.6],[10.3,17.4],[14.6,18.5],[18.5,17.2],[8.9,3.9],[17.8,12.4],[5.1,16.3],[12.9,8.0],[1.6,12.0]] },
  M: { s: 24, r: 1.4, p: [[2.1,2.6],[9.4,1.8],[16.2,3.3],[21.7,1.5],[5.6,8.2],[12.8,7.1],[19.9,9.0],[1.8,13.5],[8.7,14.4],[15.5,12.6],[22.0,15.8],[4.9,19.7],[11.6,21.2],[18.3,19.1],[13.9,17.0],[7.2,4.9],[20.6,22.4],[1.5,22.6]] },
  S: { s: 30, r: 1.35, p: [[3.2,4.1],[17.5,2.6],[26.1,9.8],[9.6,12.3],[20.4,16.7],[4.4,21.5],[14.2,25.9],[26.3,25.6],[11.8,6.0],[2.0,14.0]] },
};
const PCOL: Record<string, string> = { B: BLUE, G: GREEN, M: MAG };
const POFF: Record<string, number[]> = { B: [0, 0], G: [7, 4], M: [3, 11] };
const fillOf = (c: string, d: string) => `url(#pat${c}${d})`;

const toData = (a: Pt[]) => a.map(([x, e]) => ({ x, y: Math.pow(10, e) }));
const noShape = () => <g />;

const dots = (key: string, a: Pt[], color: string, r: number = R, xId = 'b', yId = 'l') => (
  <Scatter key={key} data={toData(a)} xAxisId={xId} yAxisId={yId} isAnimationActive={false}
    shape={(p: any) => <circle cx={p.cx} cy={p.cy} r={r} fill={color} />} />
);
const region = (key: string, a: Pt[], fill: string, op = 1) => (
  <Scatter key={key} data={toData(a)} xAxisId="b" yAxisId="l" isAnimationActive={false}
    line={{ stroke: 'none', fill, fillOpacity: op }} lineType="joint" lineJointType="linear"
    shape={noShape} />
);
const path = (key: string, a: Pt[], color: string, w: number, xId = 'b', yId = 'l', curve: any = 'linear') => (
  <Scatter key={key} data={toData(a)} xAxisId={xId} yAxisId={yId} isAnimationActive={false}
    line={{ stroke: color, strokeWidth: w, fill: 'none', strokeLinecap: 'round', strokeLinejoin: 'round' }}
    lineType="joint" lineJointType={curve} shape={noShape} />
);

const isMajor = (v: number) => Math.abs(Math.log10(v) - Math.round(Math.log10(v))) < 1e-6;

const makeXTick = (dir: number, label: boolean) => (props: any) => {
  const { x, y, payload } = props;
  return (
    <g>
      <line x1={x} x2={x} y1={y} y2={y - dir * 18} stroke={AX} strokeWidth={1.2} />
      {label ? (
        <text x={x} y={y + 39} textAnchor="middle" fontFamily={SANS} fontSize={29} fill={AX}>{payload.value}</text>
      ) : null}
    </g>
  );
};
const makeYTick = (dir: number, label: boolean) => (props: any) => {
  const { x, y, payload } = props;
  const v = payload.value as number;
  const major = isMajor(v);
  const e = Math.round(Math.log10(v));
  return (
    <g>
      <line x1={x} x2={x + dir * (major ? 18 : 9)} y1={y} y2={y} stroke={AX} strokeWidth={1.2} />
      {label && major ? (
        <text x={x - 12} y={y + 19} textAnchor="end" fontFamily={SANS} fill={AX}>
          <tspan fontSize={30}>10</tspan>
          <tspan fontSize={20} dy={-17}>{String(e)}</tspan>
        </text>
      ) : null}
    </g>
  );
};

const axes = (yDomain: number[], yTicks: number[], xLabels: boolean) => [
  <XAxis key="xb" xAxisId="b" orientation="bottom" type="number" dataKey="x" scale="log" domain={xDomain}
    ticks={xTicks} interval={0} height={1} tickSize={0} tickMargin={0} tickLine={false}
    axisLine={{ stroke: AX, strokeWidth: 1.3 }} tick={makeXTick(1, xLabels)} allowDataOverflow />,
  <XAxis key="xt" xAxisId="t" orientation="top" type="number" dataKey="x" scale="log" domain={xDomain}
    ticks={xTicks} interval={0} height={1} tickSize={0} tickMargin={0} tickLine={false}
    axisLine={{ stroke: AX, strokeWidth: 1.3 }} tick={makeXTick(-1, false)} allowDataOverflow />,
  <YAxis key="yl" yAxisId="l" orientation="left" type="number" dataKey="y" scale="log" domain={yDomain}
    ticks={yTicks} interval={0} width={1} tickSize={0} tickMargin={0} tickLine={false}
    axisLine={{ stroke: AX, strokeWidth: 1.3 }} tick={makeYTick(1, true)} allowDataOverflow />,
  <YAxis key="yr" yAxisId="r" orientation="right" type="number" dataKey="y" scale="log" domain={yDomain}
    ticks={yTicks} interval={0} width={1} tickSize={0} tickMargin={0} tickLine={false}
    axisLine={{ stroke: AX, strokeWidth: 1.3 }} tick={makeYTick(-1, false)} allowDataOverflow />,
];

const planetLabelShape = (p: any) => {
  const bx = p.cx + 39;
  return (
    <text x={bx} y={p.cy} transform={`rotate(-90 ${bx} ${p.cy})`} textAnchor="middle"
      fontFamily={SERIF} fontSize={36} fill="#000">Planet</text>
  );
};

const dashSeries = (prefix: string, dashes: number[][], row: number, color: string) =>
  dashes.map((d, i) => (
    <Scatter key={`${prefix}${i}`} data={toData([[d[0], row], [d[1], row]])} xAxisId="b" yAxisId="l"
      isAnimationActive={false} line={{ stroke: color, strokeWidth: 6, strokeLinecap: 'round', fill: 'none' }}
      lineType="joint" shape={noShape} />
  ));

function TopChart() {
  return (
    <ScatterChart width={2116} height={490} margin={{ top: 26, right: 28, bottom: 20.5, left: 121 }}>
      {axes(topYDomain, topYTicks, false)}
      <ReferenceLine xAxisId="b" yAxisId="l" segment={[{ x: 8, y: 0.01 }, { x: 300, y: 0.01 }]} stroke={AX} strokeWidth={1.3} />
      {planets.map((p) => (
        <ReferenceLine key={`tp${p}`} xAxisId="b" yAxisId="l" segment={[{ x: p, y: 1e-6 }, { x: p, y: topYDomain[1] }]}
          stroke="#000" strokeWidth={3} strokeDasharray="31 13" />
      ))}
      {region('r1', tGreenBroadReg, fillOf('G', 'M'))}
      {region('r2', tGreenBroadDenseReg, fillOf('G', 'D'))}
      {region('r3', tBlueBandReg, fillOf('B', 'D'))}
      {region('r4', tBlueMidReg, fillOf('B', 'M'))}
      {region('r5', tBlueBlobReg, fillOf('B', 'D'))}
      {region('r6', tBlueLowReg, fillOf('B', 'M'))}
      {region('r7', tBlueLowDenseReg, fillOf('B', 'D'))}
      {region('r8', tBlueSparseReg, fillOf('B', 'S'))}
      {region('r9', tBlueStreakReg, fillOf('B', 'D'))}
      {dots('tb1', tBlueLeft, BLUE)}
      {dots('tb2', tBlueBand, BLUE)}
      {dots('tb3', tBlueTail, BLUE)}
      {dots('tb4', tBlueUpper, BLUE)}
      {dots('tb5', tBlueMid, BLUE)}
      {dots('tb6', tBlueLow, BLUE)}
      {dots('tb7', tBlueRight, BLUE)}
      {path('tbf', tBlueFloor, BLUE, 3)}
      {region('r10', tGreenBandReg, fillOf('G', 'M'))}
      {region('r11', tGreenCloudReg, fillOf('G', 'M'))}
      {region('r12', tGreenDenseReg, fillOf('G', 'D'))}
      {region('r13', tGreenStreakReg, fillOf('G', 'D'))}
      {dots('tg1', tGreenLeft, GREEN)}
      {dots('tg2', tGreenBand, GREEN)}
      {dots('tg3', tGreenUpper, GREEN)}
      {dots('tg4', tGreenMid, GREEN)}
      {dots('tg6', tGreenRight, GREEN)}
      {path('tgf', tGreenFloor, GREEN, 2.5)}
      {region('r14', tMagCloudReg, fillOf('M', 'M'))}
      {region('r14b', tMagCloudDenseReg, fillOf('M', 'D'))}
      {region('r15', tMagHaloReg, fillOf('M', 'M'))}
      {region('r16', tMagBandReg, MAG)}
      {region('r17', tMagUpperReg, fillOf('M', 'D'))}
      {region('r18', tMagUpperSparseReg, fillOf('M', 'S'))}
      {region('r19', tMagStreakReg, fillOf('M', 'M'))}
      {dots('tm1', tMagLeft, MAG)}
      {dots('tm2', tMagBand, MAG)}
      {dots('tm3', tMagMid, MAG)}
      {dots('tm4', tMagUpper, MAG)}
      {dots('tm5', tMagEdge, MAG)}
      {dots('tm6', tMagBelow, MAG)}
      {dots('tg7', tGreenEdge, GREEN)}
      {path('tmf', tMagFloor, MAG, 3, 't', 'r')}
      {dots('tb8', tBlueLate, BLUE)}
      {dashSeries('pzb', pzBlueDash, pzRows[0], BLUE)}
      {dashSeries('pzg', pzGreenDash, pzRows[1], GREEN)}
      {dashSeries('pzm', pzMagDash, pzRows[2], MAG)}
      {dots('pzgd', pzGreenDots.map((x) => [x, pzRows[1]] as Pt), GREEN, 3.2)}
      {dots('pzmd', pzMagDots.map((x) => [x, pzRows[2]] as Pt), MAG, 3.2)}
      <Scatter data={planets.map((p) => ({ x: p, y: Math.pow(10, -4.4) }))} xAxisId="b" yAxisId="l"
        isAnimationActive={false} shape={planetLabelShape} />
    </ScatterChart>
  );
}

function BottomChart() {
  return (
    <ScatterChart width={2116} height={575} margin={{ top: 30, right: 28, bottom: 138, left: 121 }}>
      {axes(botYDomain, botYTicks, true)}
      {planets.map((p) => (
        <ReferenceLine key={`bp${p}`} xAxisId="b" yAxisId="l" x={p} stroke="#000" strokeWidth={3} strokeDasharray="31 13" />
      ))}
      {region('s1', bGreenBroadReg, fillOf('G', 'M'))}
      {region('s2', bGreenBroadDenseReg, fillOf('G', 'D'))}
      {region('s3', bBlueBandReg, fillOf('B', 'D'))}
      {region('s4', bBlueMidReg, fillOf('B', 'M'))}
      {region('s5', bBlueBlobReg, fillOf('B', 'D'))}
      {region('s6', bBlueLowReg, fillOf('B', 'M'))}
      {region('s7', bBlueLowDenseReg, fillOf('B', 'D'))}
      {region('s8', bBlueSparseReg, fillOf('B', 'S'))}
      {region('s9', bBlueStreakReg, fillOf('B', 'D'))}
      {dots('bb1', bBlueLeft, BLUE)}
      {dots('bb2', bBlueBand, BLUE)}
      {dots('bb3', bBlueUpper, BLUE)}
      {dots('bb4', bBlueMid, BLUE)}
      {dots('bb5', bBlueLow, BLUE)}
      {dots('bb6', bBlueStreak, BLUE)}
      {region('s10', bGreenBandReg, fillOf('G', 'M'))}
      {region('s11', bGreenCloudReg, fillOf('G', 'D'))}
      {region('s12', bGreenCloudMedReg, fillOf('G', 'M'))}
      {region('s13', bGreenStreakReg, fillOf('G', 'D'))}
      {dots('bg1', bGreenLeft, GREEN)}
      {dots('bg2', bGreenBand, GREEN)}
      {dots('bg3', bGreenMid, GREEN)}
      {dots('bg5', bGreenRight, GREEN)}
      {region('s14', bMagCloudReg, fillOf('M', 'M'))}
      {region('s15', bMagStreakReg, fillOf('M', 'M'))}
      {region('s16', bMagUpperSparseReg, fillOf('M', 'S'))}
      {region('s17', bMagUpperReg, fillOf('M', 'D'))}
      {region('s18', bMagBand1HaloReg, fillOf('M', 'D'))}
      {region('s19', bMagBand1Reg, MAG)}
      {region('s20', bMagBand2HaloReg, fillOf('M', 'D'))}
      {region('s21', bMagBand2Reg, MAG)}
      {dots('bm1', bMagLeft, MAG)}
      {dots('bm2', bMagMid, MAG)}
      {dots('bm3', bMagUpper, MAG)}
      {dots('bm4', bMagEdge, MAG)}
      {dots('bm5', bMagCloud, MAG)}
      {dots('bb7', bBlueLate, BLUE)}
      {path('bbc', bBlueCurve, BLUE, 4, 'b', 'l', 'monotoneX')}
      {path('bgc', bGreenCurve, GREEN, 3, 'b', 'l', 'monotoneX')}
      {path('bmc', bMagCurve, MAG, 3, 't', 'r', 'monotoneX')}
    </ScatterChart>
  );
}

function Overlay() {
  const colors = [BLUE, GREEN, MAG];
  const rowsY = [71.3, 116.3, 160.3];
  return (
    <svg width={2116} height={1050} style={{ position: 'absolute', left: 0, top: 0, pointerEvents: 'none' }}>
      <defs>
        {Object.keys(PCOL).map((c) =>
          Object.keys(TILES).map((d) => {
            const t = TILES[d];
            return (
              <pattern key={`${c}${d}`} id={`pat${c}${d}`} patternUnits="userSpaceOnUse"
                x={POFF[c][0]} y={POFF[c][1]} width={t.s} height={t.s}>
                {t.p.map((q, i) => <circle key={i} cx={q[0]} cy={q[1]} r={t.r} fill={PCOL[c]} />)}
              </pattern>
            );
          })
        )}
      </defs>
      <text x={33} y={247.5} transform="rotate(-90 33 247.5)" textAnchor="middle" fontFamily={SERIF} fontSize={36} fill="#000">Particle size [m]</text>
      <text x={33} y={708.5} transform="rotate(-90 33 708.5)" textAnchor="middle" fontFamily={SERIF} fontSize={36} fill="#000">Stokes number</text>
      <text x={1104.6} y={992} textAnchor="middle" fontFamily={SERIF} fontSize={37} fill="#000">Semimajor axis [au]</text>
      <text x={1394} y={80} fontFamily={SERIF} fontSize={37} fill="#000">Planetesimals (100 km)</text>
      {legendItems.map((t, i) => (
        <g key={t}>
          <circle cx={1910} cy={rowsY[i]} r={6} fill={colors[i]} />
          <text x={1948} y={rowsY[i] + 12} fontFamily={SERIF} fontSize={37} fill="#000">{t}</text>
        </g>
      ))}
    </svg>
  );
}

export default function App() {
  return (
    <div style={{ position: 'absolute', left: 0, top: 0, width: 2116, height: 1050, background: '#fff', overflow: 'hidden' }}>
      <div style={{ position: 'absolute', left: 0, top: 475 }}><BottomChart /></div>
      <div style={{ position: 'absolute', left: 0, top: 0 }}><TopChart /></div>
      <Overlay />
    </div>
  );
}
